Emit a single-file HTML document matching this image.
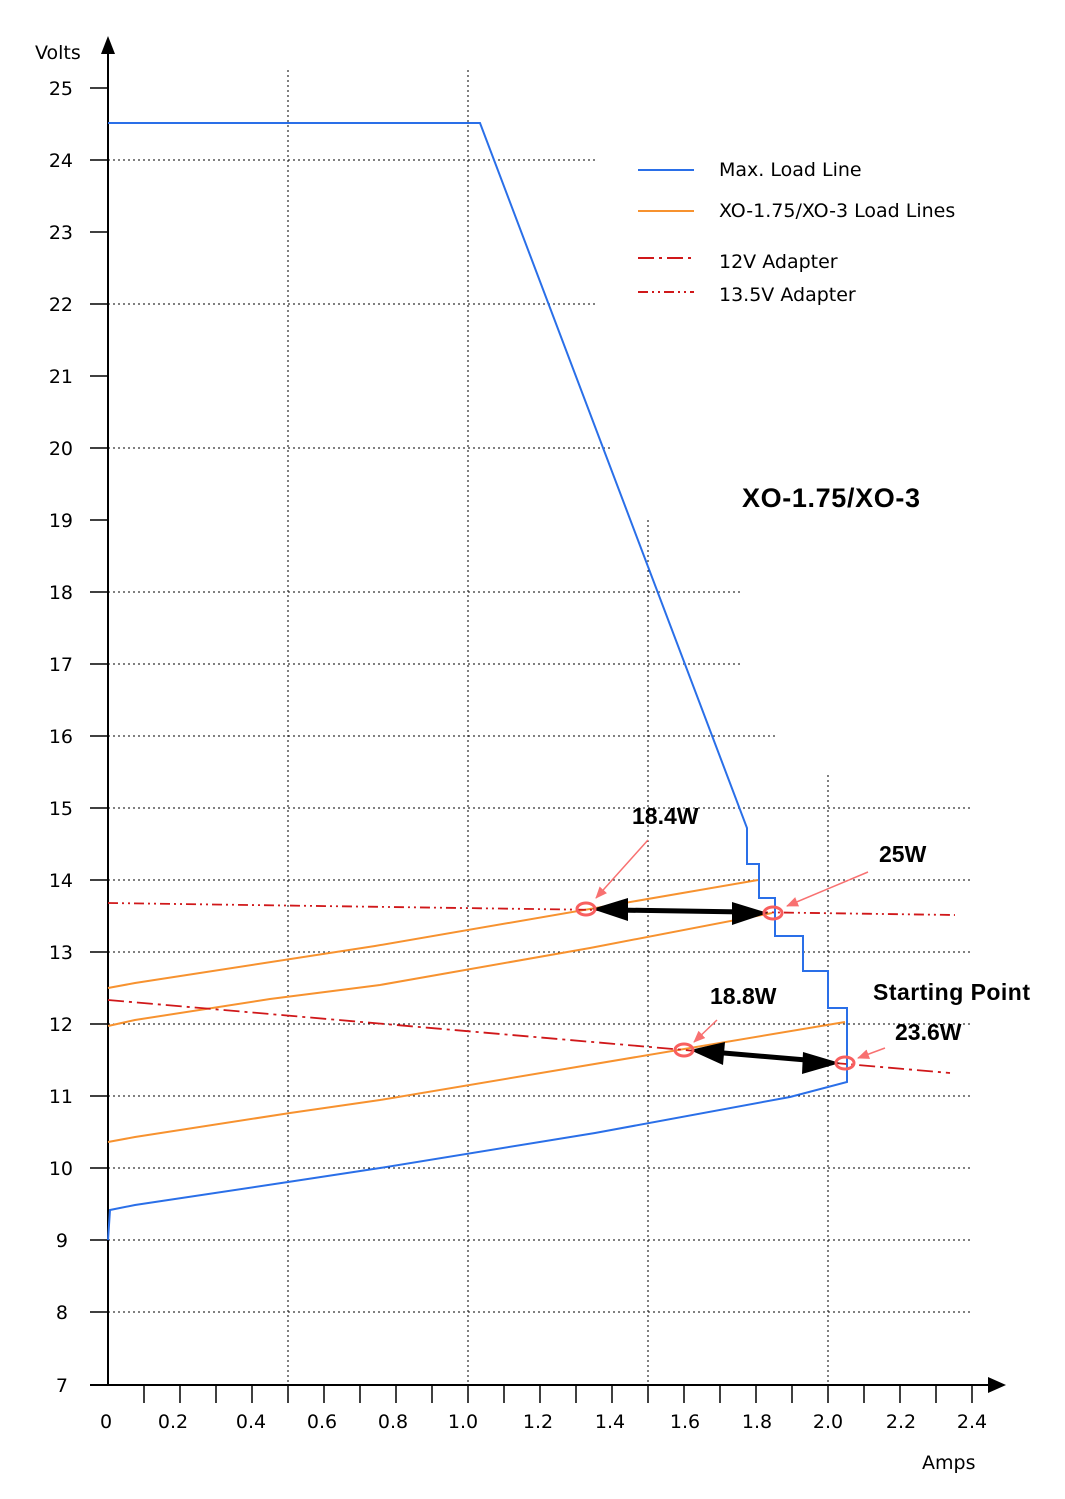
<!DOCTYPE html>
<html><head><meta charset="utf-8"><style>html,body{margin:0;padding:0;background:#fff}svg{display:block}text{font-family:"DejaVu Sans","Liberation Sans",sans-serif}.b{font-family:"Liberation Sans",sans-serif;font-weight:bold}</style></head><body>
<svg width="1065" height="1499" viewBox="0 0 1065 1499" xmlns="http://www.w3.org/2000/svg">
<defs>
<marker id="ah" markerWidth="12" markerHeight="10" refX="11" refY="5" orient="auto" markerUnits="userSpaceOnUse"><path d="M0,0 L12,5 L0,10 z" fill="#f87171"/></marker>
</defs>
<g stroke="#000" stroke-width="1" stroke-dasharray="2,3" fill="none">
<line x1="108" y1="160" x2="595" y2="160"/>
<line x1="108" y1="304" x2="595" y2="304"/>
<line x1="108" y1="448" x2="612" y2="448"/>
<line x1="108" y1="592" x2="740" y2="592"/>
<line x1="108" y1="664" x2="740" y2="664"/>
<line x1="108" y1="736" x2="775" y2="736"/>
<line x1="108" y1="808" x2="972" y2="808"/>
<line x1="108" y1="880" x2="972" y2="880"/>
<line x1="108" y1="952" x2="972" y2="952"/>
<line x1="108" y1="1024" x2="972" y2="1024"/>
<line x1="108" y1="1096" x2="972" y2="1096"/>
<line x1="108" y1="1168" x2="972" y2="1168"/>
<line x1="108" y1="1240" x2="972" y2="1240"/>
<line x1="108" y1="1312" x2="972" y2="1312"/>
<line x1="288" y1="70" x2="288" y2="1385"/>
<line x1="468" y1="70" x2="468" y2="1385"/>
<line x1="648" y1="520" x2="648" y2="1385"/>
<line x1="828" y1="775" x2="828" y2="1385"/>
</g>
<g stroke="#000" stroke-width="2">
<line x1="108" y1="1385" x2="108" y2="50"/>
<line x1="90" y1="1385" x2="990" y2="1385"/>
</g>
<path d="M108,36 L101,54 L115,54 z" fill="#000"/>
<path d="M1006,1385 L988,1377 L988,1393 z" fill="#000"/>
<g stroke="#000" stroke-width="1.5">
<line x1="90" y1="88" x2="108" y2="88"/><line x1="90" y1="160" x2="108" y2="160"/><line x1="90" y1="232" x2="108" y2="232"/><line x1="90" y1="304" x2="108" y2="304"/><line x1="90" y1="376" x2="108" y2="376"/><line x1="90" y1="448" x2="108" y2="448"/><line x1="90" y1="520" x2="108" y2="520"/><line x1="90" y1="592" x2="108" y2="592"/><line x1="90" y1="664" x2="108" y2="664"/><line x1="90" y1="736" x2="108" y2="736"/><line x1="90" y1="808" x2="108" y2="808"/><line x1="90" y1="880" x2="108" y2="880"/><line x1="90" y1="952" x2="108" y2="952"/><line x1="90" y1="1024" x2="108" y2="1024"/><line x1="90" y1="1096" x2="108" y2="1096"/><line x1="90" y1="1168" x2="108" y2="1168"/><line x1="90" y1="1240" x2="108" y2="1240"/><line x1="90" y1="1312" x2="108" y2="1312"/>
<line x1="144" y1="1385" x2="144" y2="1403"/><line x1="180" y1="1385" x2="180" y2="1403"/><line x1="216" y1="1385" x2="216" y2="1403"/><line x1="252" y1="1385" x2="252" y2="1403"/><line x1="288" y1="1385" x2="288" y2="1403"/><line x1="324" y1="1385" x2="324" y2="1403"/><line x1="360" y1="1385" x2="360" y2="1403"/><line x1="396" y1="1385" x2="396" y2="1403"/><line x1="432" y1="1385" x2="432" y2="1403"/><line x1="468" y1="1385" x2="468" y2="1403"/><line x1="504" y1="1385" x2="504" y2="1403"/><line x1="540" y1="1385" x2="540" y2="1403"/><line x1="576" y1="1385" x2="576" y2="1403"/><line x1="612" y1="1385" x2="612" y2="1403"/><line x1="648" y1="1385" x2="648" y2="1403"/><line x1="684" y1="1385" x2="684" y2="1403"/><line x1="720" y1="1385" x2="720" y2="1403"/><line x1="756" y1="1385" x2="756" y2="1403"/><line x1="792" y1="1385" x2="792" y2="1403"/><line x1="828" y1="1385" x2="828" y2="1403"/><line x1="864" y1="1385" x2="864" y2="1403"/><line x1="900" y1="1385" x2="900" y2="1403"/><line x1="936" y1="1385" x2="936" y2="1403"/><line x1="972" y1="1385" x2="972" y2="1403"/>
</g>
<g font-size="19" text-anchor="end" fill="#000">
<text x="73" y="95">25</text><text x="73" y="167">24</text><text x="73" y="239">23</text><text x="73" y="311">22</text><text x="73" y="383">21</text><text x="73" y="455">20</text><text x="73" y="527">19</text><text x="73" y="599">18</text><text x="73" y="671">17</text><text x="73" y="743">16</text><text x="73" y="815">15</text><text x="73" y="887">14</text><text x="73" y="959">13</text><text x="73" y="1031">12</text><text x="73" y="1103">11</text><text x="73" y="1175">10</text><text x="68" y="1247">9</text><text x="68" y="1319">8</text><text x="68" y="1392">7</text>
</g>
<text x="35" y="59" font-size="19">Volts</text>
<g font-size="19" text-anchor="middle">
<text x="106" y="1428">0</text><text x="173" y="1428">0.2</text><text x="251" y="1428">0.4</text><text x="322" y="1428">0.6</text><text x="393" y="1428">0.8</text><text x="463" y="1428">1.0</text><text x="538" y="1428">1.2</text><text x="610" y="1428">1.4</text><text x="685" y="1428">1.6</text><text x="757" y="1428">1.8</text><text x="828" y="1428">2.0</text><text x="901" y="1428">2.2</text><text x="972" y="1428">2.4</text>
</g>
<text x="922" y="1469" font-size="19">Amps</text>
<polyline fill="none" stroke="#2a6fe8" stroke-width="2" points="108,1240 110,1210 135,1205 288,1182 380,1168 595,1133 790,1097 847,1082 847,1008 828,1008 828,971 803,971 803,936 775,936 775,898 759,898 759,864 747,864 747,828 480,123 108,123"/>
<g fill="none" stroke="#f7922f" stroke-width="2">
<polyline points="108,988 135,983 375,946 758,880"/>
<polyline points="108,1026 135,1020 270,999 380,985 590,948 772,913"/>
<polyline points="108,1142 135,1137 290,1113 380,1100 845,1022"/>
</g>
<line x1="108" y1="903" x2="955" y2="915" stroke="#d0181a" stroke-width="1.8" stroke-dasharray="10,4,2,4,2,4"/>
<line x1="108" y1="1000" x2="950" y2="1073" stroke="#d0181a" stroke-width="1.8" stroke-dasharray="16,5,3,5"/>
<g stroke="#000" stroke-width="5"><line x1="615" y1="910" x2="745" y2="912"/><line x1="712" y1="1052" x2="818" y2="1061"/></g>
<g fill="#000">
<path d="M592,909 L628,898 L628,921 z"/><path d="M768,913 L732,902 L732,925 z"/>
<path d="M690,1050 L725,1042 L723,1065 z"/><path d="M840,1063 L803,1052 L802,1074 z"/>
</g>
<g fill="none" stroke="#f85f5f" stroke-width="3">
<ellipse cx="586" cy="909" rx="9" ry="6"/><ellipse cx="773" cy="913" rx="9" ry="6"/><ellipse cx="684" cy="1050" rx="9" ry="6"/><ellipse cx="845" cy="1063" rx="9" ry="6"/>
</g>
<g stroke="#f87171" stroke-width="1.5" marker-end="url(#ah)">
<line x1="648" y1="840" x2="596" y2="898"/><line x1="868" y1="872" x2="787" y2="906"/><line x1="717" y1="1020" x2="694" y2="1042"/><line x1="885" y1="1048" x2="858" y2="1058"/>
</g>
<g font-size="23">
<text class="b" x="632" y="824">18.4W</text><text class="b" x="879" y="862">25W</text><text class="b" x="710" y="1004">18.8W</text><text class="b" x="873" y="1000" textLength="157">Starting Point</text><text class="b" x="895" y="1040">23.6W</text>
</g>
<text class="b" x="742" y="507" font-size="27" textLength="178">XO-1.75/XO-3</text>
<line x1="638" y1="170" x2="694" y2="170" stroke="#2a6fe8" stroke-width="2"/>
<line x1="638" y1="211" x2="694" y2="211" stroke="#f7922f" stroke-width="2"/>
<line x1="638" y1="258" x2="694" y2="258" stroke="#d0181a" stroke-width="2" stroke-dasharray="16,5,3,5"/>
<line x1="638" y1="292" x2="694" y2="292" stroke="#d0181a" stroke-width="2" stroke-dasharray="10,4,2,4,2,4"/>
<g font-size="19"><text x="719" y="176">Max. Load Line</text><text x="719" y="217">XO-1.75/XO-3 Load Lines</text><text x="719" y="268">12V Adapter</text><text x="719" y="301">13.5V Adapter</text></g>
</svg>
</body></html>
